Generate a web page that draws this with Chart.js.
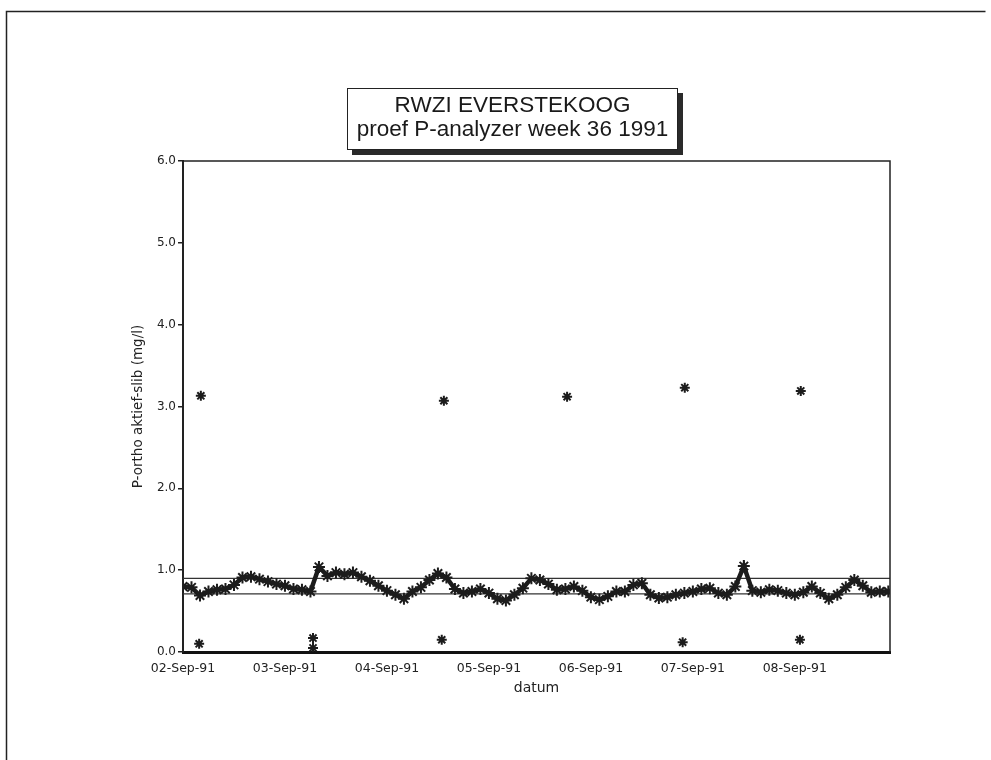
<!DOCTYPE html>
<html>
<head>
<meta charset="utf-8">
<script src="https://cdn.jsdelivr.net/npm/chart.js@4.4.1/dist/chart.umd.min.js"></script>
<style>
  html, body { margin: 0; padding: 0; background: #fff; }
  #wrap { position: relative; width: 991px; height: 760px; overflow: hidden; }
  #chart { position: absolute; left: 0; top: 0; }
  #titleBox {
    position: absolute; left: 347px; top: 88px; width: 329px; height: 56px;
    border: 1.5px solid #222; box-shadow: 5px 5px 0 #2a2a2a; background: #fff;
    font-family: "Liberation Sans", Arial, sans-serif; font-size: 22.5px; line-height: 24px;
    color: #1a1a1a; text-align: center; padding-top: 4px; box-sizing: content-box;
    white-space: nowrap;
  }
</style>
</head>
<body>
<div id="wrap">
  <canvas id="chart" width="991" height="760"></canvas>
  <div id="titleBox">RWZI EVERSTEKOOG<br>proef P-analyzer week 36 1991</div>
</div>
<script>
// x-axis: hours since 02-Sep-91 00:00
const dateLabels = ['02-Sep-91', '03-Sep-91', '04-Sep-91', '05-Sep-91', '06-Sep-91', '07-Sep-91', '08-Sep-91'];
const xEnd = 166.4;

const hours = [
  0, 2, 4, 6, 8, 10, 12, 14, 16, 18, 20, 22,
  24, 26, 28, 30, 32, 34, 36, 38, 40, 42, 44, 46,
  48, 50, 52, 54, 56, 58, 60, 62, 64, 66, 68, 70,
  72, 74, 76, 78, 80, 82, 84, 86, 88, 90, 92, 94,
  96, 98, 100, 102, 104, 106, 108, 110, 112, 114, 116, 118,
  120, 122, 124, 126, 128, 130, 132, 134, 136, 138, 140, 142,
  144, 146, 148, 150, 152, 154, 156, 158, 160, 162, 164, 166
];
const pOrtho = [
  0.80, 0.79, 0.69, 0.74, 0.76, 0.77, 0.82, 0.91, 0.92, 0.89, 0.86, 0.83,
  0.81, 0.77, 0.76, 0.74, 1.04, 0.93, 0.97, 0.95, 0.97, 0.92, 0.87, 0.81,
  0.75, 0.70, 0.65, 0.74, 0.79, 0.88, 0.96, 0.91, 0.77, 0.72, 0.74, 0.77,
  0.72, 0.65, 0.63, 0.70, 0.78, 0.90, 0.88, 0.83, 0.76, 0.77, 0.80, 0.75,
  0.67, 0.64, 0.68, 0.74, 0.74, 0.82, 0.84, 0.70, 0.66, 0.67, 0.70, 0.72,
  0.74, 0.77, 0.78, 0.72, 0.70, 0.80, 1.05, 0.75, 0.73, 0.76, 0.75, 0.72,
  0.70, 0.73, 0.80, 0.72, 0.65, 0.70, 0.79, 0.88, 0.81, 0.73, 0.74, 0.74
];

// calibration samples (high and low standard)
const calHours = [3.8, 4.2, 30.6, 30.6, 60.9, 61.4, 90.4, 117.6, 118.1, 145.2, 145.4];
const calValues = [0.10, 3.13, 0.17, 0.05, 0.15, 3.07, 3.12, 0.12, 3.23, 0.15, 3.19];

const upperLimit = 0.90;
const lowerLimit = 0.71;

const framePlugin = {
  id: 'frame',
  afterDraw(chart) {
    const ctx = chart.ctx;
    const a = chart.chartArea;
    ctx.save();
    ctx.strokeStyle = '#222';
    // page frame
    ctx.lineWidth = 1.5;
    ctx.beginPath();
    ctx.moveTo(6.5, 760);
    ctx.lineTo(6.5, 11.5);
    ctx.lineTo(985.5, 11.5);
    ctx.stroke();
    // plot box top + right
    ctx.beginPath();
    ctx.moveTo(a.left, a.top);
    ctx.lineTo(a.right, a.top);
    ctx.lineTo(a.right, a.bottom);
    ctx.stroke();
    ctx.restore();
  }
};

const ctx = document.getElementById('chart').getContext('2d');
const chart = new Chart(ctx, {
  type: 'line',
  data: {
    datasets: [
      {
        label: 'P-ortho',
        data: hours.map((h, i) => ({ x: h, y: pOrtho[i] })),
        borderColor: '#1c1c1c',
        borderWidth: 4.5,
        pointStyle: 'star',
        pointRadius: 6,
        pointBorderWidth: 2,
        pointBorderColor: '#1c1c1c',
        tension: 0
      },
      {
        label: 'ijking',
        data: calHours.map((h, i) => ({ x: h, y: calValues[i] })),
        showLine: false,
        pointStyle: 'star',
        pointRadius: 5,
        pointBorderWidth: 2,
        pointBorderColor: '#1c1c1c'
      },
      {
        label: 'bovengrens',
        data: [{ x: 0, y: upperLimit }, { x: xEnd, y: upperLimit }],
        borderColor: '#333',
        borderWidth: 1.3,
        pointRadius: 0
      },
      {
        label: 'ondergrens',
        data: [{ x: 0, y: lowerLimit }, { x: xEnd, y: lowerLimit }],
        borderColor: '#333',
        borderWidth: 1.3,
        pointRadius: 0
      }
    ]
  },
  options: {
    responsive: false,
    animation: false,
    layout: { padding: { left: 130, right: 101, top: 161, bottom: 63 } },
    plugins: {
      legend: { display: false },
      tooltip: { enabled: false }
    },
    scales: {
      x: {
        type: 'linear',
        min: 0,
        max: xEnd,
        afterFit(scale) { scale.height = 45; },
        afterBuildTicks(scale) {
          scale.ticks = scale.ticks.filter(t => t.value % 24 === 0 && t.value / 24 < dateLabels.length);
        },
        ticks: {
          stepSize: 24,
          autoSkip: false,
          maxRotation: 0,
          padding: 1,
          color: '#222',
          font: { family: 'DejaVu Sans', size: 12.5 },
          callback: v => dateLabels[v / 24]
        },
        grid: { display: false },
        border: { color: '#111', width: 3 },
        title: {
          display: true,
          text: 'datum',
          color: '#222',
          font: { family: 'DejaVu Sans', size: 14 },
          padding: { top: 0, bottom: 0 }
        }
      },
      y: {
        min: 0,
        max: 6,
        afterFit(scale) { scale.width = 53; },
        ticks: {
          stepSize: 1,
          padding: 2,
          color: '#222',
          font: { family: 'DejaVu Sans', size: 12 },
          callback: v => v.toFixed(1)
        },
        grid: { drawOnChartArea: false, drawTicks: true, tickLength: 5, color: '#222', lineWidth: 1.5 },
        border: { color: '#222', width: 2 },
        title: {
          display: true,
          text: 'P-ortho aktief-slib (mg/l)',
          color: '#222',
          font: { family: 'DejaVu Sans', size: 13.5 },
          padding: { top: 0, bottom: 0 }
        }
      }
    }
  },
  plugins: [framePlugin]
});
</script>
</body>
</html>
